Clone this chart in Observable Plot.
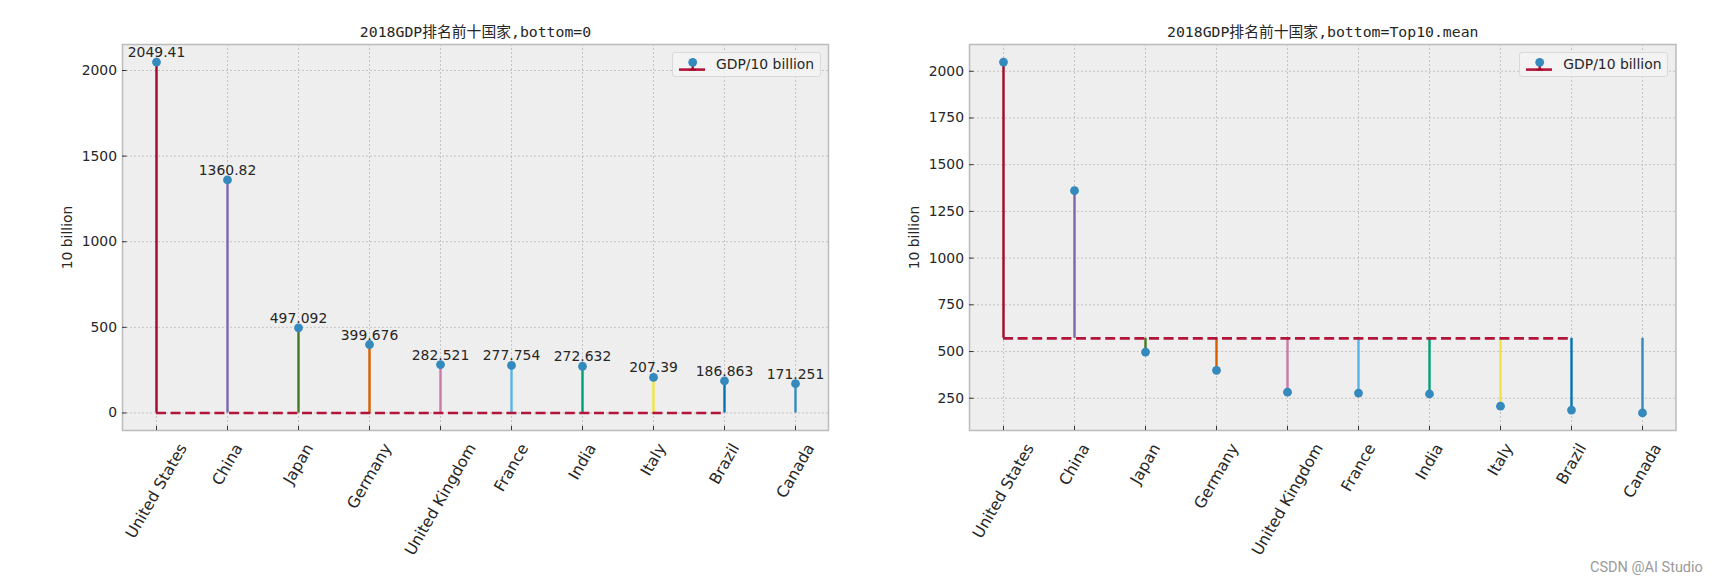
<!DOCTYPE html>
<html><head><meta charset="utf-8">
<script src="https://cdn.jsdelivr.net/npm/d3@7"></script>
<script src="https://cdn.jsdelivr.net/npm/@observablehq/plot@0.6"></script>
<style>
body{margin:0;background:#fff;}
#wrap{position:relative;width:1718px;height:584px;overflow:hidden;background:#fff;}
.panel{position:absolute;top:0;}
.legend{position:absolute;box-sizing:border-box;height:25px;width:149px;border:1px solid #d9d9d9;border-radius:3px;background:rgba(243,243,243,0.85);font:13.9px "DejaVu Sans";color:#262626;}
.legend svg{position:absolute;left:0;top:0;}
.legend span{position:absolute;left:43px;top:3px;white-space:nowrap;}
.wm{position:absolute;left:1590px;top:559px;font:14.5px Roboto;color:#9a9a9a;white-space:nowrap;}
</style></head><body><div id="wrap"></div>
<script>
// ---- data ----
const countries = ["United States","China","Japan","Germany","United Kingdom","France","India","Italy","Brazil","Canada"];
const gdp = [2049.41,1360.82,497.092,399.676,282.521,277.754,272.632,207.39,186.863,171.251];
const leftTicks = [0,500,1000,1500,2000];
const rightTicks = [250,500,750,1000,1250,1500,1750,2000];
const titleLeft = "2018GDP排名前十国家,bottom=0";
const titleRight = "2018GDP排名前十国家,bottom=Top10.mean";
const yLabel = "10 billion";
const legendLabel = "GDP/10 billion";
const watermark = "CSDN @AI Studio";
// ---- styles ----
const palette = ["#A60628","#7A68A6","#467821","#D55E00","#CC79A7","#56B4E9","#009E73","#F0E442","#0072B2","#348ABD"];
const baseColor = "#b3143a";
const dotColor = "#348ABD";
const textColor = "#262626";

const rows = countries.map((c,i)=>({country:c, value:gdp[i]}));
const meanVal = d3.mean(gdp);

const ctx = document.createElement("canvas").getContext("2d");
const xFont = 15.7;
ctx.font = `${xFont}px "DejaVu Sans"`;

function xLabelMarks() {
  const h = 1.16 * xFont;
  return countries.map(c => {
    const L = ctx.measureText(c).width;
    const bh = 0.866 * L + 0.5 * h;
    return Plot.text([c], {x: d => d, frameAnchor: "bottom", rotate: -60, textAnchor: "middle", lineAnchor: "middle",
      dy: 10 + bh / 2, fontSize: xFont, fill: textColor});
  });
}

function panel({width, marginLeft, marginRight, baseline, yTicks, title, values}) {
  const lo = Math.min(baseline, d3.min(gdp)), hi = Math.max(baseline, d3.max(gdp));
  const pad = (hi - lo) * 0.05;
  const grid = {stroke: "#b2b2b2", strokeOpacity: 1, strokeWidth: 0.7, strokeDasharray: "2,2"};
  return Plot.plot({
    width, height: 584, marginLeft, marginRight, marginTop: 44, marginBottom: 154,
    style: {fontFamily: "DejaVu Sans", fontSize: "13.9px", color: textColor, background: "transparent", overflow: "visible"},
    x: {type: "point", domain: countries, padding: 0.45},
    y: {domain: [lo - pad, hi + pad]},
    color: {type: "ordinal", domain: countries, range: palette},
    marks: [
      Plot.frame({fill: "#eeeeee"}),
      Plot.gridX(countries, grid),
      Plot.gridY(yTicks, grid),
      Plot.ruleX(rows, {x: "country", y1: () => baseline, y2: "value", stroke: "country", strokeWidth: 2.4}),
      Plot.ruleY([baseline], {y: d => d, x1: () => countries[0], x2: () => countries[countries.length - 2],
        stroke: baseColor, strokeWidth: 2.6, strokeDasharray: "10,4.6"}),
      Plot.dot(rows, {x: "country", y: "value", r: 4.4, fill: dotColor}),
      values ? Plot.text(rows, {x: "country", y: "value", text: d => String(d.value), lineAnchor: "bottom", dy: -5, fontSize: 13.9, fill: textColor}) : null,
      Plot.frame({stroke: "#bcbcbc", strokeWidth: 1.5}),
      Plot.axisY(yTicks, {tickSize: 4.5, dx: 4.5, tickFormat: () => "", stroke: "#333", label: null}),
      Plot.axisY(yTicks, {tickSize: 0, tickPadding: 5.5, tickFormat: d => String(d), fontSize: 13.9, fill: textColor, label: yLabel, labelAnchor: "center", labelOffset: 60, labelArrow: "none"}),
      Plot.axisX(countries, {tickSize: 4, dy: -4, tickFormat: () => "", stroke: "#333", label: null}),
      ...xLabelMarks(),
      Plot.text([title], {frameAnchor: "top", lineAnchor: "bottom", dy: -7.5, fontFamily: "'DejaVu Sans Mono', 'Noto Sans CJK SC'", fontSize: 14.8, fill: textColor})
    ]
  });
}

const wrap = document.getElementById("wrap");
function place(el, left) { const d = document.createElement("div"); d.className = "panel"; d.style.left = left + "px"; d.appendChild(el); wrap.appendChild(d); }
place(panel({width: 860, marginLeft: 122, marginRight: 32, baseline: 0, yTicks: leftTicks, title: titleLeft, values: true}), 0);
place(panel({width: 858, marginLeft: 109, marginRight: 42.5, baseline: meanVal, yTicks: rightTicks, title: titleRight, values: false}), 860);

function legend(left) {
  const d = document.createElement("div");
  d.className = "legend";
  d.style.left = left + "px"; d.style.top = "51.7px";
  d.innerHTML = `<svg width="40" height="25">
    <line x1="6" x2="16" y1="16.6" y2="16.6" stroke="${baseColor}" stroke-width="2.6"/>
    <line x1="23" x2="32" y1="16.6" y2="16.6" stroke="${baseColor}" stroke-width="2.6"/>
    <line x1="19.7" x2="19.7" y1="16.6" y2="9.3" stroke="${palette[0]}" stroke-width="2.3"/>
    <line x1="16" x2="23" y1="16.6" y2="16.6" stroke="${palette[0]}" stroke-width="2.6"/>
    <circle cx="19.7" cy="9.3" r="4.4" fill="${dotColor}"/></svg><span></span>`;
  d.querySelector("span").textContent = legendLabel;
  wrap.appendChild(d);
}
legend(672);
legend(1519.3);

const wm = document.createElement("div");
wm.className = "wm"; wm.textContent = watermark; wrap.appendChild(wm);
</script></body></html>
